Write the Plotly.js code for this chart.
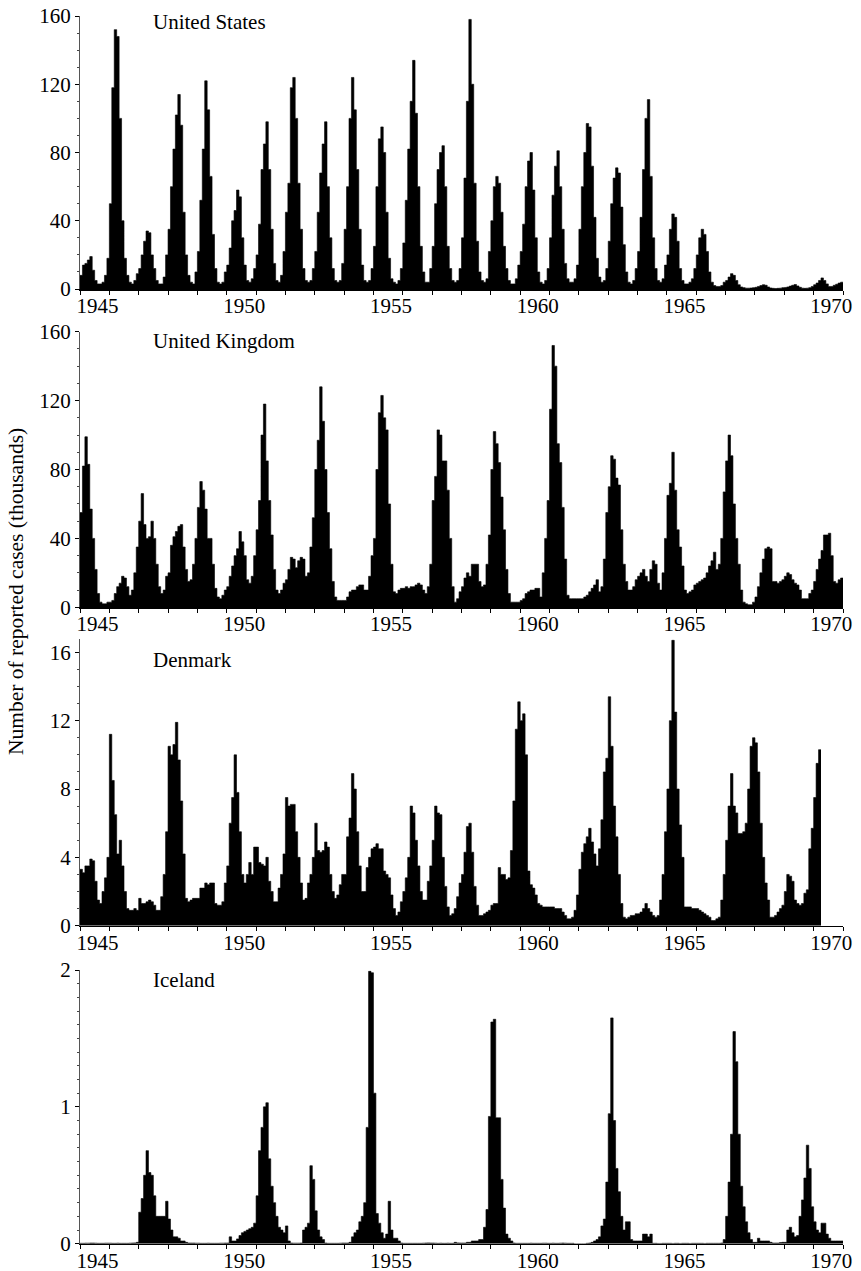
<!DOCTYPE html>
<html>
<head>
<meta charset="utf-8">
<script src="https://cdn.plot.ly/plotly-3.0.1.min.js"></script>
<style>
html,body{margin:0;padding:0;background:#fff;}
#chart{width:861px;height:1271px;}
</style>
</head>
<body>
<div id="chart"></div>
<script>
// ---- data: monthly reported measles cases (thousands), Jan..Dec per year ----
const years = [1945,1946,1947,1948,1949,1950,1951,1952,1953,1954,1955,1956,1957,
               1958,1959,1960,1961,1962,1963,1964,1965,1966,1967,1968,1969,1970];

const usCases = [
  [8,14,15,17,19,11,5,3,3,4,8,18],
  [50,118,152,148,100,40,18,8,4,3,5,9],
  [12,20,28,34,33,20,12,5,3,3,7,20],
  [35,60,82,102,114,96,45,20,8,4,3,10],
  [22,52,82,122,105,66,32,12,4,3,4,10],
  [14,24,40,46,58,54,30,14,5,4,6,12],
  [20,38,70,85,98,70,35,15,5,4,8,22],
  [45,62,118,124,100,62,35,12,5,4,5,12],
  [22,45,68,85,98,60,30,12,5,4,5,15],
  [35,60,100,124,105,70,35,14,5,4,5,12],
  [25,60,88,95,80,45,18,6,4,3,5,12],
  [27,52,82,110,134,103,60,25,10,4,4,12],
  [25,50,70,80,84,60,25,12,5,4,5,12],
  [30,65,110,158,120,62,28,10,5,4,6,22],
  [40,60,66,62,45,25,12,5,3,3,6,14],
  [22,38,60,75,80,58,30,10,4,3,5,12],
  [30,55,72,81,60,35,15,6,4,4,6,14],
  [35,60,80,97,95,72,42,18,7,4,5,12],
  [28,50,65,71,68,48,26,10,4,3,5,12],
  [22,42,70,100,111,66,30,12,5,4,6,14],
  [20,35,44,42,28,12,5,3,3,4,6,12],
  [20,30,35,32,22,10,4,2,1.5,1.5,2,4],
  [5,7,9,8,5,2.5,1.2,0.8,0.5,0.5,0.6,0.8],
  [1,1.5,2,2.5,2.2,1.2,0.6,0.4,0.3,0.4,0.5,0.8],
  [0.9,1.2,1.7,2.2,2.6,1.8,1,0.5,0.4,0.5,0.8,1.5],
  [2.5,3.5,5,6.5,5,3,1.5,1.5,2.2,2.8,3.5,4]
];

const ukCases = [
  [55,82,99,83,57,40,22,8,3,2,2,3],
  [3,4,8,12,14,18,17,12,7,10,20,35],
  [50,66,48,40,41,50,40,25,12,8,10,18],
  [20,36,41,44,47,48,35,22,15,16,25,40],
  [58,73,68,57,40,40,25,11,6,5,7,10],
  [12,18,24,30,34,44,38,30,16,14,18,30],
  [45,62,100,118,85,62,42,22,10,8,10,14],
  [16,22,29,28,23,27,29,28,18,20,35,52],
  [80,97,128,108,80,55,34,15,6,4,4,4],
  [4,6,9,10,10,12,13,13,10,10,18,30],
  [40,80,113,123,110,103,60,25,9,8,10,11],
  [11,12,11,12,12,13,14,13,10,8,12,25],
  [62,76,103,100,85,85,68,40,12,3,5,9],
  [12,17,20,18,25,25,25,15,12,13,25,42],
  [80,102,95,84,64,45,22,8,3,3,3,3],
  [4,5,8,9,10,10,11,11,6,20,40,62],
  [115,152,140,95,84,58,28,7,5,5,5,5],
  [5,5,6,7,9,11,13,16,9,12,28,55],
  [70,88,86,75,71,45,25,15,10,10,12,16],
  [18,20,22,18,15,22,27,25,14,10,20,40],
  [65,72,90,68,45,35,24,10,8,9,10,13],
  [14,15,16,17,20,24,27,32,22,25,40,67],
  [85,100,88,60,40,25,10,3,2,1.5,1.5,3],
  [6,12,20,28,34,35,34,15,15,14,15,16],
  [18,20,19,16,14,13,10,5,5,5,8,10],
  [15,22,28,33,42,42,43,30,15,14,16,17]
];

const dkCases = [
  [3.3,3.1,3.5,3.5,3.9,3.8,2.6,1.5,1.3,2.0,2.8,4.0],
  [11.2,8.5,6.5,4.2,5.0,3.5,2.0,1.0,0.9,0.9,1.0,0.9],
  [1.6,1.3,1.3,1.4,1.5,1.4,1.2,0.9,0.9,1.7,3.0,5.5],
  [10.5,10.0,10.6,11.9,9.7,7.3,4.2,1.6,1.4,1.5,1.6,1.6],
  [1.6,2.2,2.2,2.5,2.4,2.5,2.5,1.3,1.2,1.2,1.4,2.5],
  [3.5,6.0,7.5,10.0,7.8,5.5,3.0,2.5,3.0,3.7,3.0,4.6],
  [4.6,3.7,3.6,3.5,4.0,2.6,2.0,1.4,1.4,2.2,3.0,4.2],
  [7.5,7.0,7.1,7.1,5.5,4.0,2.5,1.5,1.6,2.5,3.0,4.0],
  [6.0,4.4,4.3,4.4,4.9,4.6,3.0,2.0,1.6,1.8,2.4,3.0],
  [3.0,5.2,6.3,8.9,8.0,5.5,3.5,2.0,2.0,3.4,4.0,4.5],
  [4.6,4.8,4.5,4.5,3.2,3.0,2.8,1.8,1.0,0.6,0.8,1.4],
  [2.0,2.8,4.0,7.0,6.6,5.0,3.5,2.0,1.5,1.5,2.6,3.5],
  [5.0,7.0,6.6,6.5,4.0,2.3,1.1,0.6,0.7,1.0,1.7,2.5],
  [3.0,4.3,5.8,6.0,4.3,2.3,1.2,0.6,0.6,0.7,0.8,0.9],
  [1.2,1.3,1.3,3.4,3.0,3.0,2.7,2.8,4.4,7.3,11.5,13.1],
  [12.0,12.4,10.0,3.2,2.4,2.2,1.8,1.3,1.2,1.1,1.1,1.1],
  [1.1,1.1,1.0,1.0,1.0,0.8,0.6,0.4,0.4,0.5,0.9,1.8],
  [3.3,4.3,4.8,5.2,5.7,4.9,4.2,3.5,4.5,6.2,9.0,9.8],
  [13.4,10.5,7.0,5.2,3.0,1.3,0.5,0.4,0.5,0.6,0.6,0.7],
  [0.7,0.8,1.0,1.3,1.0,0.8,0.6,0.5,0.6,1.5,3.0,5.5],
  [8.0,12.0,16.7,12.5,8.0,5.9,4.0,1.1,1.1,1.1,1.0,1.0],
  [1.0,0.9,0.8,0.7,0.6,0.5,0.3,0.3,0.4,0.5,1.5,3.0],
  [5.0,7.0,8.9,7.0,6.6,5.4,5.4,5.5,6.0,8.0,10.5,11.0],
  [10.7,9.0,6.0,4.0,2.5,1.5,0.5,0.5,0.6,0.8,1.0,1.2],
  [2.0,3.0,2.9,2.6,1.5,1.3,1.2,1.3,1.9,2.1,4.5,5.7],
  [7.5,9.5,10.3]
];

const isCases = [
  [0.003,0.003,0.004,0.004,0.005,0.005,0.004,0.003,0.003,0.003,0.004,0.004],
  [0.004,0.003,0.003,0.004,0.003,0.003,0.003,0.003,0.004,0.005,0.006,0.01],
  [0.23,0.33,0.5,0.68,0.52,0.5,0.35,0.2,0.2,0.2,0.2,0.31],
  [0.18,0.1,0.05,0.05,0.04,0.02,0.02,0.01,0.005,0.005,0.005,0.004],
  [0.004,0.003,0.003,0.003,0.004,0.003,0.003,0.003,0.003,0.004,0.004,0.005],
  [0.005,0.05,0.02,0.02,0.035,0.06,0.08,0.09,0.1,0.11,0.12,0.15],
  [0.35,0.68,0.85,1.0,1.03,0.62,0.42,0.3,0.2,0.12,0.1,0.08],
  [0.13,0.02,0.005,0.004,0.004,0.004,0.005,0.1,0.12,0.15,0.57,0.47],
  [0.24,0.1,0.05,0.03,0.005,0.003,0.003,0.003,0.003,0.003,0.004,0.005],
  [0.005,0.005,0.01,0.05,0.08,0.1,0.16,0.2,0.3,0.85,1.99,1.98],
  [1.1,0.22,0.15,0.08,0.04,0.07,0.31,0.1,0.04,0.04,0.02,0.005],
  [0.003,0.003,0.003,0.003,0.003,0.003,0.003,0.003,0.004,0.005,0.006,0.005],
  [0.005,0.004,0.003,0.004,0.003,0.003,0.004,0.003,0.003,0.01,0.006,0.005],
  [0.005,0.005,0.01,0.01,0.02,0.02,0.02,0.03,0.03,0.12,0.25,0.93],
  [1.62,1.64,0.92,0.92,0.47,0.26,0.07,0.04,0.02,0.005,0.003,0.003],
  [0.003,0.003,0.003,0.003,0.004,0.003,0.003,0.003,0.003,0.004,0.004,0.003],
  [0.003,0.004,0.003,0.003,0.004,0.005,0.004,0.003,0.003,0.003,0,0],
  [0,0,0,0.003,0.005,0.01,0.02,0.03,0.05,0.13,0.18,0.45],
  [0.95,1.65,0.9,0.55,0.38,0.2,0.1,0.16,0.16,0.03,0.02,0.02],
  [0.02,0.02,0.07,0.07,0.05,0.07,0.003,0.003,0.002,0.002,0.003,0.003],
  [0.003,0.003,0.002,0.003,0.003,0.002,0.003,0.003,0.003,0.002,0.003,0.003],
  [0.003,0.003,0.003,0.002,0.003,0.003,0.003,0.003,0.003,0.003,0.005,0.03],
  [0.2,0.45,0.8,1.55,1.33,0.8,0.42,0.27,0.16,0.08,0.03,0.01],
  [0.01,0.04,0.02,0.02,0.02,0.02,0.01,0.005,0.005,0.005,0.008,0.01],
  [0.01,0.1,0.12,0.08,0.05,0.06,0.2,0.32,0.48,0.72,0.55,0.27],
  [0.16,0.1,0.08,0.15,0.15,0.07,0.04,0.02,0.02,0.02,0.02,0.02]
];

const countryNames = ['United States','United Kingdom','Denmark','Iceland'];
const xLabelYears = [1945,1950,1955,1960,1965,1970];
const yTicksUS = [0,40,80,120,160];
const yTicksUK = [0,40,80,120,160];
const yTicksDK = [0,4,8,12,16];
const yTicksIS = [0,1,2];
const yTitle = 'Number of reported cases (thousands)';

// ---- layout geometry (pixels in the 861x1271 page) ----
const W = 861, H = 1271;
const panels = [
  {data: usCases, ticks: yTicksUS, range: [0,160],  minor: 10,  topPx: 16,    zeroPx: 289,   topVal: 160},
  {data: ukCases, ticks: yTicksUK, range: [0,160],  minor: 10,  topPx: 331.7, zeroPx: 607.3, topVal: 160},
  {data: dkCases, ticks: yTicksDK, range: [0,16.8], minor: 1,   topPx: 652.3, zeroPx: 925.7, topVal: 16},
  {data: isCases, ticks: yTicksIS, range: [0,2],    minor: 0.1, topPx: 970,   zeroPx: 1243.7, topVal: 2}
];
const labelPx = [22, 340.7, 660, 980];

function monthlySeries(rows) {
  const xs = [], ys = [];
  rows.forEach((row, i) => {
    row.forEach((v, m) => { xs.push(years[i] + m / 12); ys.push(v); });
  });
  // close the final monthly step
  xs.push(xs[xs.length - 1] + 1 / 12);
  ys.push(ys[ys.length - 1]);
  return {xs, ys};
}

const traces = [];
const layout = {
  width: W, height: H,
  margin: {l: 80, r: 18, t: 0, b: 0, pad: 0},
  paper_bgcolor: '#fff', plot_bgcolor: '#fff',
  showlegend: false,
  font: {family: 'Liberation Serif, "Times New Roman", serif', size: 21, color: '#000'},
  annotations: []
};

panels.forEach((p, k) => {
  const s = monthlySeries(p.data);
  const xa = k ? 'x' + (k + 1) : 'x';
  const ya = k ? 'y' + (k + 1) : 'y';
  traces.push({
    type: 'scatter', mode: 'lines', x: s.xs, y: s.ys, xaxis: xa, yaxis: ya,
    line: {shape: 'hv', width: 0.6, color: '#000'},
    fill: 'tozeroy', fillcolor: '#000', hoverinfo: 'skip'
  });
  const pxPerUnit = (p.zeroPx - p.topPx) / p.topVal;
  const domTopPx = p.zeroPx - p.range[1] * pxPerUnit;
  const dom = [1 - p.zeroPx / H, 1 - domTopPx / H];
  const xKey = k ? 'xaxis' + (k + 1) : 'xaxis';
  const yKey = k ? 'yaxis' + (k + 1) : 'yaxis';
  layout[xKey] = {
    domain: [0, 1], anchor: ya, range: [1945, 1971],
    tickmode: 'array', tickvals: xLabelYears.map(y => y + 0.6), ticktext: xLabelYears.map(String),
    ticks: '', ticklen: 0, ticklabelstandoff: -3,
    showline: true, linecolor: '#000', linewidth: 1.6,
    showgrid: false, zeroline: false, automargin: false,
    tickfont: {size: 21, color: '#000'},
    minor: {tickmode: 'linear', tick0: 1945, dtick: 1, ticks: 'outside', ticklen: 4,
            tickwidth: 1, tickcolor: '#000', showgrid: false},
    fixedrange: true
  };
  layout[yKey] = {
    domain: dom, anchor: xa, range: p.range,
    tickmode: 'array', tickvals: p.ticks, ticktext: p.ticks.map(String),
    ticks: 'outside', ticklen: 4, tickwidth: 1, tickcolor: '#000',
    showline: true, linecolor: '#555', linewidth: 1,
    showgrid: false, zeroline: false, automargin: false,
    tickfont: {size: 21, color: '#000'},
    minor: {tickmode: 'linear', tick0: 0, dtick: p.minor, ticks: 'outside', ticklen: 2,
            tickwidth: 1, tickcolor: '#444', showgrid: false},
    fixedrange: true
  };
  layout.annotations.push({
    text: countryNames[k], xref: xa, yref: ya,
    x: 1947.42, y: (p.zeroPx - labelPx[k]) / pxPerUnit,
    xanchor: 'left', yanchor: 'middle', showarrow: false,
    font: {size: 21, color: '#000'}
  });
});

layout.annotations.push({
  text: yTitle, xref: 'paper', yref: 'paper',
  x: (16 - 80) / (W - 80 - 18), y: 1 - 592 / H,
  xanchor: 'center', yanchor: 'middle', textangle: -90, showarrow: false,
  font: {size: 21.5, color: '#000'}
});

Plotly.newPlot('chart', traces, layout, {staticPlot: true, displayModeBar: false});
</script>
</body>
</html>
